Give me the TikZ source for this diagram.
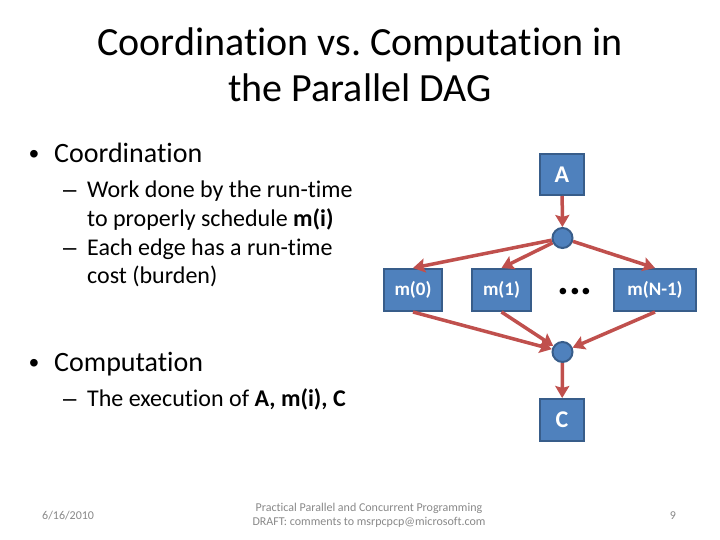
\documentclass[tikz,border=0pt]{standalone}
\usepackage{fontspec}
\setmainfont[Ligatures=NoCommon]{Carlito}
\newfontfamily\bulletfont{Liberation Sans}
\usepackage{tikz}
\usetikzlibrary{arrows.meta}
\definecolor{DAGfill}{HTML}{4F81BD}
\definecolor{DAGline}{HTML}{385D8A}
\definecolor{DAGedge}{HTML}{C0504D}
\definecolor{DAGfoot}{HTML}{898989}
\frenchspacing

\begin{document}
\begin{tikzpicture}[x=1pt, y=-1pt,
            box/.style={rectangle, draw=DAGline, fill=DAGfill, line width=2pt,
                        inner sep=0pt, text=white,
                        font=\bfseries\fontsize{19}{19}\selectfont},
            joint/.style={circle, draw=DAGline, fill=DAGfill, line width=2pt,
                          inner sep=0pt, minimum size=20pt},
            flow/.style={draw=DAGedge, line width=3.5pt,
                         -{Stealth[length=12pt, width=14pt, inset=2pt]}},
            lvA/.style={anchor=base west, inner sep=0pt,
                        font=\fontsize{28}{34}\selectfont},
            lvB/.style={anchor=base west, inner sep=0pt,
                        font=\fontsize{24}{28}\selectfont},
            foot/.style={anchor=base, inner sep=0pt, text=DAGfoot,
                         font=\fontsize{12}{14}\selectfont}]
        \fill[white] (0,0) rectangle (720,540);
        \useasboundingbox (0,0) rectangle (720,540);
        % title
        \node[anchor=base, inner sep=0pt, font=\fontsize{40}{48}\selectfont] (title1) at (360,56) {Coordination vs. Computation in};
        \node[anchor=base, inner sep=0pt, font=\fontsize{40}{48}\selectfont] (title2) at (360,102) {the Parallel DAG};
        % bullets
        \node[lvA] (b1)    at (29,164)  {\bulletfont •};
        \node[lvA] (coord) at (54,163)  {Coordination};
        \node[lvB] (d1)    at (63,198)  {\bulletfont –};
        \node[lvB] (work1) at (87,198)  {Work done by the run-time};
        \node[lvB] (work2) at (87,226)  {to properly schedule \textbf{m(i)}};
        \node[lvB] (d2)    at (63,255)  {\bulletfont –};
        \node[lvB] (each1) at (87,255)  {Each edge has a run-time};
        \node[lvB] (each2) at (87,283)  {cost (burden)};
        \node[lvA] (b2)    at (29,372)  {\bulletfont •};
        \node[lvA] (comp)  at (54,371)  {Computation};
        \node[lvB] (d3)    at (63,406)  {\bulletfont –};
        \node[lvB] (exec)  at (87,406)  {The execution of \textbf{A, m(i), C}};
        % the DAG
        \node[box, minimum width=44pt, minimum height=41pt,
              font=\bfseries\fontsize{24}{24}\selectfont] (A) at (562,174.5) {A};
        \node[joint] (fork) at (562.5,238) {};
        \node[box, minimum width=58pt, minimum height=42pt] (m0) at (413,290)   {m(0)};
        \node[box, minimum width=59pt, minimum height=42pt] (m1) at (501.5,290) {m(1)};
        \node[anchor=base, inner sep=0pt, font=\bfseries\fontsize{44}{44}\selectfont] (dots) at (575,294.5) {...};
        \node[box, minimum width=82pt, minimum height=42pt] (mN) at (655,290)   {m(N-1)};
        \node[joint] (join) at (562.5,352) {};
        \node[box, minimum width=44pt, minimum height=42pt,
              font=\bfseries\fontsize{24}{24}\selectfont] (C) at (562,420) {C};
        \draw[flow] (A) -- (fork);
        \draw[flow] (fork) -- (m0.north);
        \draw[flow] (fork) -- (m1.north);
        \draw[flow] (fork) -- (mN.north);
        \draw[flow] (m0.south) -- (join);
        \draw[flow] (m1.south) -- (join);
        \draw[flow] (mN.south) -- (join);
        \draw[flow] (join) -- (C);
        % footer
        \node[foot, anchor=base west] (date) at (42,519) {6/16/2010};
        \node[foot] (course1) at (369,511) {Practical Parallel and Concurrent Programming};
        \node[foot] (course2) at (369,525) {DRAFT: comments to msrpcpcp@microsoft.com};
        \node[foot] (page) at (673,519) {9};
      \end{tikzpicture}
\end{document}
